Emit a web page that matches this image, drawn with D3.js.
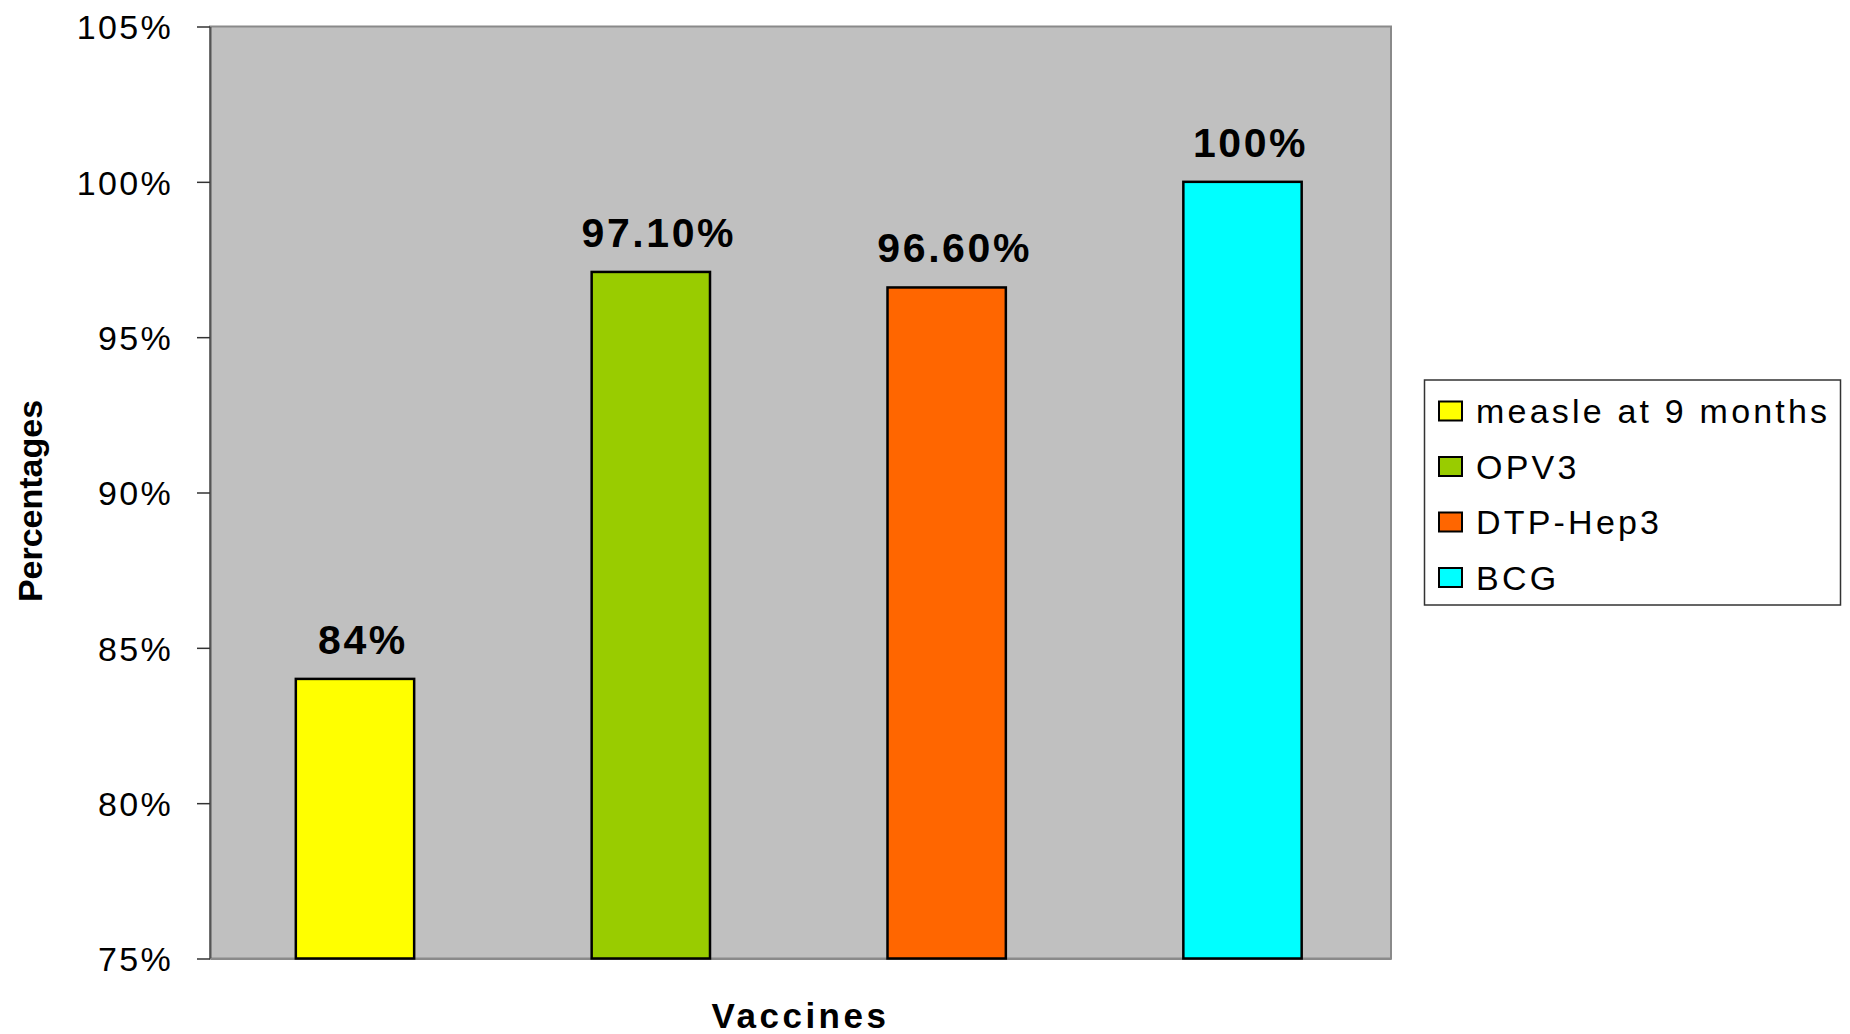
<!DOCTYPE html>
<html>
<head>
<meta charset="utf-8">
<script src="https://cdn.jsdelivr.net/npm/d3@7"></script>
<style>
  html, body { margin: 0; padding: 0; background: #fff; }
  svg { display: block; font-family: Arial, "Liberation Sans", sans-serif; }
</style>
</head>
<body>
<svg id="chart" width="1850" height="1034"></svg>
<script>
// Immunisation coverage by vaccine
const vaccines = ["measle at 9 months", "OPV3", "DTP-Hep3", "BCG"];
const coverage = [0.84, 0.971, 0.966, 1.0];
const valueLabels = ["84%", "97.10%", "96.60%", "100%"];
const barColors = ["#ffff00", "#99cc00", "#ff6600", "#00ffff"];
const yTicks = [0.75, 0.80, 0.85, 0.90, 0.95, 1.00, 1.05];
const yTickLabels = ["75%", "80%", "85%", "90%", "95%", "100%", "105%"];

const svg = d3.select("#chart");
const plot = { left: 210, top: 26.5, width: 1181, height: 932 };

const x = d3.scaleBand()
  .domain(vaccines)
  .range([plot.left, plot.left + plot.width])
  .paddingInner(0.6)
  .paddingOuter(0.296)
  .align(0.49);

const y = d3.scaleLinear()
  .domain([0.75, 1.05])
  .range([plot.top + plot.height, plot.top]);

// plot area
svg.append("rect")
  .attr("x", plot.left).attr("y", plot.top)
  .attr("width", plot.width).attr("height", plot.height)
  .attr("fill", "#c0c0c0")
  .attr("stroke", "#8a8a8a").attr("stroke-width", 2);

// y axis
const yAxis = d3.axisLeft(y)
  .tickValues(yTicks)
  .tickFormat((d, i) => yTickLabels[i])
  .tickSizeInner(13)
  .tickSizeOuter(0)
  .tickPadding(24);

const yg = svg.append("g")
  .attr("transform", `translate(${plot.left},0)`)
  .call(yAxis);
yg.select(".domain").attr("stroke", "#555").attr("stroke-width", 2);
yg.selectAll(".tick line").attr("stroke", "#333").attr("stroke-width", 1.5);
yg.selectAll(".tick text")
  .attr("fill", "#000")
  .style("font-size", "34px")
  .style("letter-spacing", "2.3px")
  .attr("dy", "0.36em");

// x axis baseline
const xg = svg.append("g")
  .attr("transform", `translate(0,${plot.top + plot.height})`)
  .call(d3.axisBottom(x).tickSize(0).tickFormat(""));
xg.select(".domain").attr("stroke", "#8a8a8a").attr("stroke-width", 2);

// bars
svg.append("g").selectAll("rect")
  .data(vaccines)
  .join("rect")
  .attr("x", d => x(d))
  .attr("y", (d, i) => y(coverage[i]))
  .attr("width", x.bandwidth())
  .attr("height", (d, i) => y(0.75) - y(coverage[i]))
  .attr("fill", (d, i) => barColors[i])
  .attr("stroke", "#000")
  .attr("stroke-width", 2.5);

// value labels
svg.append("g").selectAll("text")
  .data(vaccines)
  .join("text")
  .attr("x", d => x(d) + x.bandwidth() / 2 + 8)
  .attr("y", (d, i) => y(coverage[i]) - 25)
  .attr("text-anchor", "middle")
  .style("font-size", "41px")
  .style("font-weight", "bold")
  .style("letter-spacing", "2.6px")
  .attr("fill", "#000")
  .text((d, i) => valueLabels[i]);

// axis titles
svg.append("text")
  .attr("transform", `translate(42,501) rotate(-90)`)
  .attr("text-anchor", "middle")
  .style("font-size", "34px")
  .style("font-weight", "bold")
  .text("Percentages");

svg.append("text")
  .attr("x", plot.left + plot.width / 2)
  .attr("y", 1028)
  .attr("text-anchor", "middle")
  .style("font-size", "35px")
  .style("font-weight", "bold")
  .style("letter-spacing", "3.5px")
  .text("Vaccines");

// legend
const legend = svg.append("g");
legend.append("rect")
  .attr("x", 1424.5).attr("y", 380)
  .attr("width", 416).attr("height", 225)
  .attr("fill", "#fff")
  .attr("stroke", "#333").attr("stroke-width", 1.5);

const rowH = 55.5;
const items = legend.selectAll("g.item")
  .data(vaccines)
  .join("g")
  .attr("class", "item")
  .attr("transform", (d, i) => `translate(1439,${411 + i * rowH})`);

items.append("rect")
  .attr("x", 0).attr("y", -9.5)
  .attr("width", 23).attr("height", 19)
  .attr("fill", (d, i) => barColors[i])
  .attr("stroke", "#000").attr("stroke-width", 2);

items.append("text")
  .attr("x", 37)
  .attr("dy", "0.36em")
  .style("font-size", "34px")
  .style("letter-spacing", "3.2px")
  .attr("fill", "#000")
  .text(d => d);
</script>
</body>
</html>
